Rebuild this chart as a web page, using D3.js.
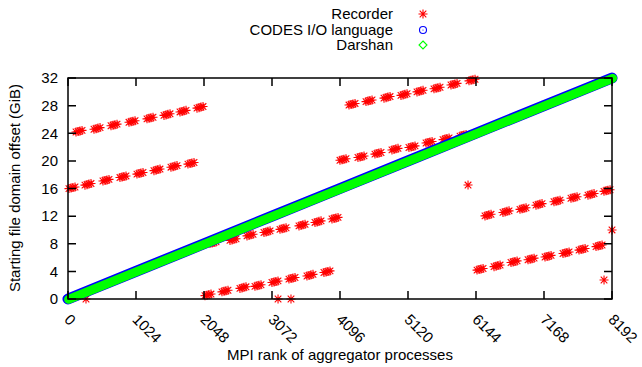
<!DOCTYPE html>
<meta charset="utf-8">
<html>
<head>
<style>
body { margin: 0; background: #fff; }
text { font-family: "Liberation Sans", Arial, sans-serif; font-size: 15px; fill: #000; }
</style>
</head>
<body>
<script src="https://cdn.jsdelivr.net/npm/d3@7"></script>
<script>

// ---- data ----
var xTicks = [0, 1024, 2048, 3072, 4096, 5120, 6144, 7168, 8192];
var yTicks = [0, 4, 8, 12, 16, 20, 24, 28, 32];

// Recorder: each entry is a cluster of overlapping points (rank, GiB)
var recorderClusters = [
  [166, 24.3], [437, 24.7], [693, 25.2], [964, 25.7], [1235, 26.2], [1491, 26.7], [1732, 27.2], [1988, 27.75],
  [60, 16.1], [301, 16.6], [572, 17.2], [828, 17.7], [1084, 18.2], [1340, 18.7], [1596, 19.2], [1852, 19.65],
  [2108, 0.6], [2364, 1.15], [2635, 1.65], [2861, 1.95], [3117, 2.5], [3373, 3.0], [3644, 3.45], [3900, 3.95],
  [2184, 8.15], [2485, 8.6], [2741, 9.25], [2997, 9.75], [3238, 10.2], [3524, 10.7], [3765, 11.2], [4021, 11.7],
  [4277, 28.2], [4533, 28.7], [4804, 29.2], [5060, 29.6], [5301, 30.1], [5557, 30.55], [5813, 31.1], [6084, 31.7],
  [4141, 20.2], [4412, 20.6], [4668, 21.1], [4924, 21.7], [5180, 22.05], [5437, 22.7], [5693, 23.2], [5949, 23.7],
  [6325, 12.15], [6596, 12.65], [6852, 13.1], [7093, 13.7], [7364, 14.2], [7620, 14.7], [7876, 15.15], [8117, 15.7],
  [6205, 4.3], [6461, 4.8], [6717, 5.4], [6973, 5.8], [7229, 6.2], [7500, 6.7], [7741, 7.2], [7997, 7.7]
];
// Recorder: isolated points
var recorderSingles = [
  [271, 0], [3163, 0], [3358, 0], [6024, 16.5], [8192, 10.0], [8072, 2.75]
];
// CODES I/O language and Darshan lie on the same diagonal
var diagRanks = [0, 1024, 2048, 3072, 4096, 5120, 6144, 7168, 8192];
var codesGiB = [0, 4, 8, 12, 16, 20, 24, 28, 32];
var darshanGiB = [0, 4, 8, 12, 16, 20, 24, 28, 32];

var legendNames = ["Recorder", "CODES I/O language", "Darshan"];

// ---- layout ----
var W = 642, H = 367;
var margin = {top: 78, left: 68};
var width = 612 - margin.left,
    height = 299 - margin.top;

var svg = d3.select("body").append("svg")
  .attr("width", W)
  .attr("height", H);

var g = svg.append("g")
  .attr("transform", "translate(" + margin.left + "," + margin.top + ")");

var x = d3.scaleLinear().domain([0, 8192]).range([0, width]);
var y = d3.scaleLinear().domain([0, 32]).range([height, 0]);

// star marker (gnuplot pt 3)
function star(sel, cx, cy) {
  return sel.append("path")
    .attr("d", "M-4.5,0H4.5M0,-4.5V4.5M-3.3,-3.3L3.3,3.3M-3.3,3.3L3.3,-3.3")
    .attr("transform", "translate(" + cx + "," + cy + ")")
    .attr("stroke", "#ff0000")
    .attr("stroke-width", 1.1)
    .attr("fill", "none");
}

// recorder clusters (drawn first, like gnuplot)
var clusterOffsets = [[-3, 0.8], [-1, 0.3], [1, -0.3], [3, -0.8]];
var rec = g.append("g");
recorderClusters.forEach(function(d) {
  clusterOffsets.forEach(function(o) {
    star(rec, x(d[0]) + o[0], y(d[1]) + o[1]);
  });
});
recorderSingles.forEach(function(d) {
  star(rec, x(d[0]), y(d[1]));
});

// diagonal series
var line = d3.line()
  .x(function(d) { return x(d[0]); })
  .y(function(d) { return y(d[1]); });

var codes = diagRanks.map(function(r, i) { return [r, codesGiB[i]]; });
var darshan = diagRanks.map(function(r, i) { return [r, darshanGiB[i]]; });

g.append("path")
  .datum(codes)
  .attr("d", line)
  .attr("fill", "none")
  .attr("stroke", "#0000ff")
  .attr("stroke-width", 11)
  .attr("stroke-linecap", "round");

g.append("path")
  .datum(darshan)
  .attr("d", line)
  .attr("fill", "none")
  .attr("stroke", "#00ff00")
  .attr("stroke-width", 9)
  .attr("stroke-linecap", "round")
  .attr("transform", "translate(0.6,0.3)");

// frame + ticks
g.append("rect")
  .attr("width", width)
  .attr("height", height)
  .attr("fill", "none")
  .attr("stroke", "#000")
  .attr("stroke-width", 1.5);

var tickLen = 8;
g.selectAll(".xt").data(xTicks).enter().append("path")
  .attr("d", function(d) {
    return "M" + x(d) + "," + height + "v" + (-tickLen) + "M" + x(d) + ",0v" + tickLen;
  })
  .attr("stroke", "#000").attr("stroke-width", 1.5);
g.selectAll(".yt").data(yTicks).enter().append("path")
  .attr("d", function(d) {
    return "M0," + y(d) + "h" + tickLen + "M" + width + "," + y(d) + "h" + (-tickLen);
  })
  .attr("stroke", "#000").attr("stroke-width", 1.5);

// tick labels
g.selectAll(".yl").data(yTicks).enter().append("text")
  .attr("x", -10)
  .attr("y", function(d) { return y(d); })
  .attr("dy", "0.35em")
  .attr("text-anchor", "end")
  .text(function(d) { return d; });

g.selectAll(".xl").data(xTicks).enter().append("text")
  .attr("transform", function(d) {
    return "translate(" + (x(d) + 3) + "," + (height + 14) + ") rotate(45)";
  })
  .attr("dy", "0.7em")
  .attr("text-anchor", "start")
  .text(function(d) { return d; });

// axis titles
svg.append("text")
  .attr("x", 340)
  .attr("y", 360)
  .attr("text-anchor", "middle")
  .text("MPI rank of aggregator processes");

svg.append("text")
  .attr("transform", "translate(20,188) rotate(-90)")
  .attr("text-anchor", "middle")
  .text("Starting file domain offset (GiB)");

// legend
var leg = svg.append("g");
legendNames.forEach(function(name, i) {
  leg.append("text")
    .attr("x", 393)
    .attr("y", 14 + i * 15.5)
    .attr("dy", "0.35em")
    .attr("text-anchor", "end")
    .text(name);
});
star(leg, 423, 14);
leg.append("circle")
  .attr("cx", 423).attr("cy", 30).attr("r", 3.5)
  .attr("fill", "none").attr("stroke", "#0000ff").attr("stroke-width", 1.1);
leg.append("circle")
  .attr("cx", 423).attr("cy", 30).attr("r", 0.6)
  .attr("fill", "#0000ff");
leg.append("path")
  .attr("d", "M0,-4L4,0L0,4L-4,0Z")
  .attr("transform", "translate(423,45)")
  .attr("fill", "none").attr("stroke", "#00ff00").attr("stroke-width", 1.1);

</script>
</body>
</html>
